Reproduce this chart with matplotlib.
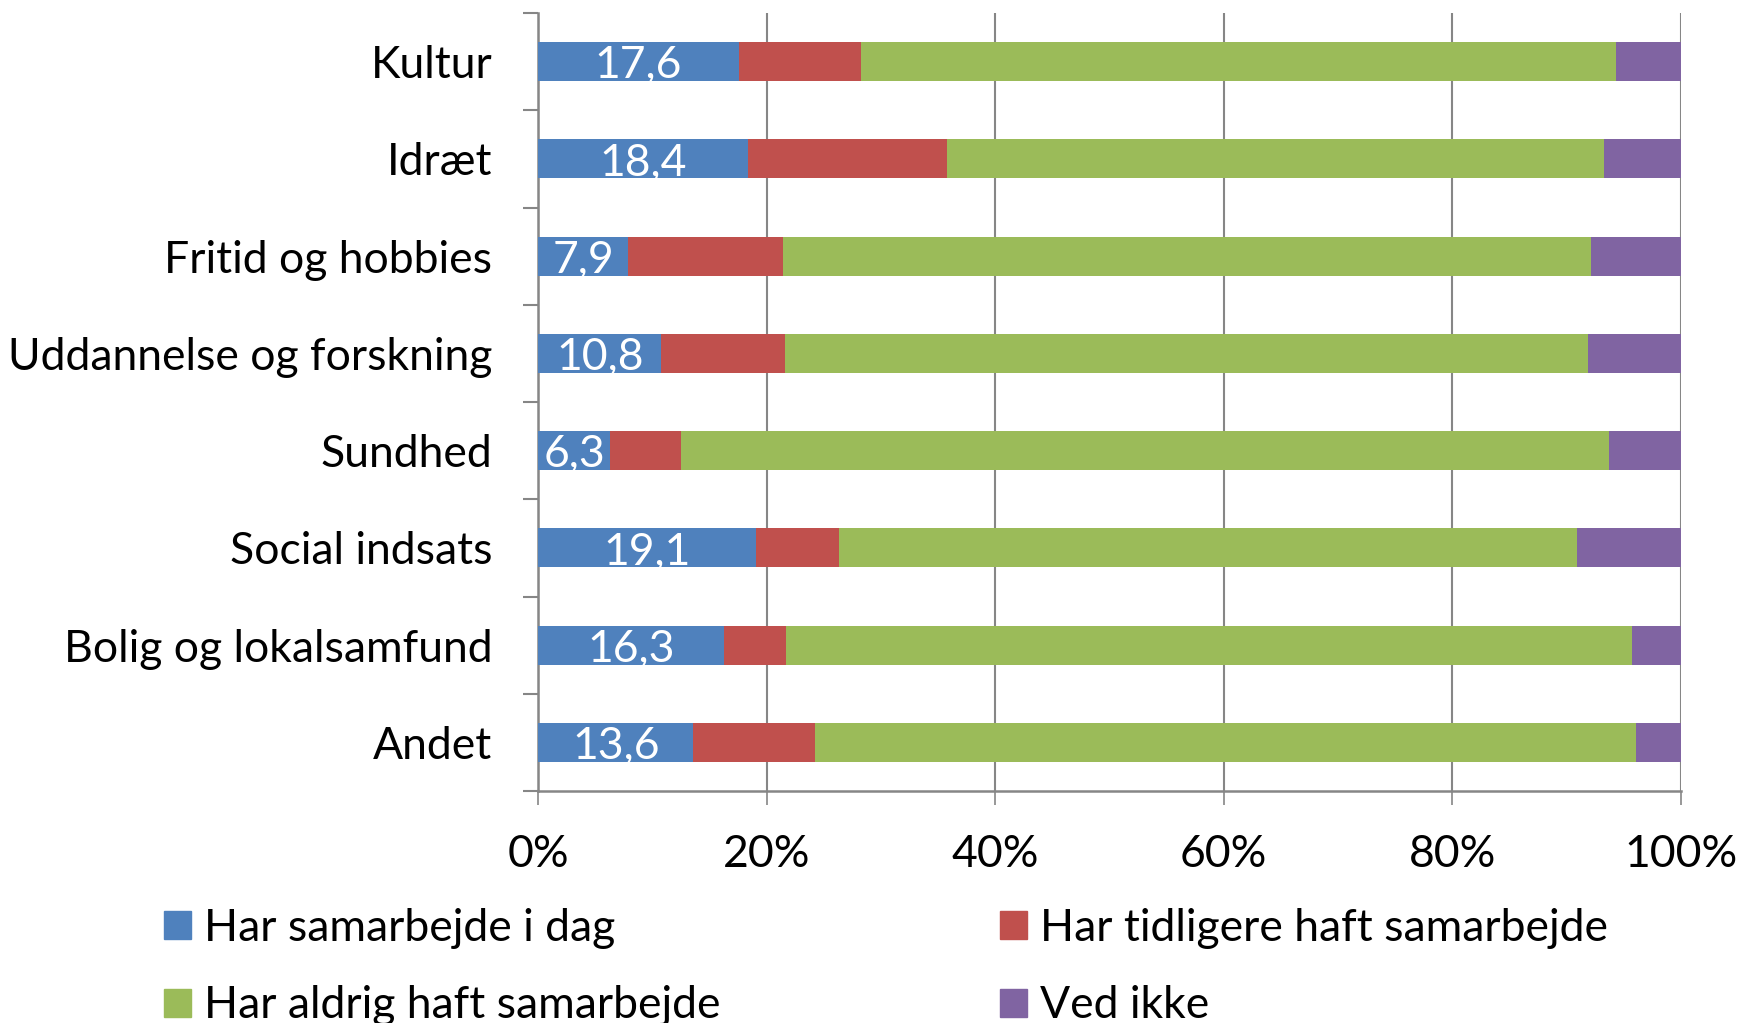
import numpy as np
import matplotlib
matplotlib.use("Agg")
import matplotlib.pyplot as plt
from matplotlib.patches import Patch

plt.rcParams["font.family"] = ["Lato", "DejaVu Sans"]

# kategorier, øverst -> nederst
categories = ["Kultur", "Idræt", "Fritid og hobbies", "Uddannelse og forskning",
              "Sundhed", "Social indsats", "Bolig og lokalsamfund", "Andet"]
i_dag = [17.6, 18.4, 7.9, 10.8, 6.3, 19.1, 16.3, 13.6]
tidligere = [10.7, 17.4, 13.5, 10.8, 6.2, 7.2, 5.4, 10.6]
aldrig = [66.0, 57.5, 70.7, 70.3, 81.2, 64.6, 74.0, 71.9]
ved_ikke = [5.7, 6.7, 7.9, 8.1, 6.3, 9.1, 4.3, 3.9]

series = [
    ("Har samarbejde i dag", i_dag, "#4F81BD"),
    ("Har tidligere haft samarbejde", tidligere, "#C0504D"),
    ("Har aldrig haft samarbejde", aldrig, "#9BBB59"),
    ("Ved ikke", ved_ikke, "#8064A2"),
]
x_ticks = [0, 20, 40, 60, 80, 100]
x_labels = ["0%", "20%", "40%", "60%", "80%", "100%"]

GRAY = "#868686"
FS = 32

fig = plt.figure(figsize=(17.38, 10.23), dpi=100)
ax = fig.add_axes([538 / 1738, 1 - 791 / 1023, (1681 - 538) / 1738, (791 - 13) / 1023])

y = np.arange(len(categories))
left = np.zeros(len(categories))
bars = []
for name, vals, col in series:
    b = ax.barh(y, vals, 0.4, left=left, color=col, label=name, zorder=3)
    bars.append(b)
    left = left + np.array(vals)

# dataetiketter på første serie (lidt under midten, som i Excel)
labs = ax.bar_label(bars[0], labels=["{:.1f}".format(v).replace(".", ",") for v in i_dag],
                    label_type="center", color="white", fontsize=FS, zorder=4)
for t in labs:
    t.set_y(-3)

ax.set_xlim(0, 100)
ax.set_ylim(len(categories) - 0.5, -0.5)
ax.set_xticks(x_ticks)
ax.set_xticklabels(x_labels, fontsize=FS)
ax.set_yticks(y)
ax.set_yticklabels(categories, fontsize=FS)
ax.set_yticks(np.arange(len(categories) + 1) - 0.5, minor=True)

ax.tick_params(axis="y", which="major", length=0, pad=33)
ax.tick_params(axis="y", which="minor", length=11, width=1.5, color=GRAY, direction="out")
ax.tick_params(axis="x", length=10, width=1.2, color=GRAY, direction="out", pad=21)

ax.grid(axis="x", color=GRAY, linewidth=1.5, zorder=0)
for s in ("top", "right"):
    ax.spines[s].set_visible(False)
for s in ("left", "bottom"):
    ax.spines[s].set_color(GRAY)
    ax.spines[s].set_linewidth(1.8)

# legende i to kolonner, placeret som i originalen
handles = [Patch(color=c, label=n) for n, _, c in series]
kw = dict(frameon=False, fontsize=FS, handlelength=0.6, handleheight=0.6,
          handletextpad=0.3, labelspacing=0.82, borderpad=0, borderaxespad=0,
          loc="upper left")
fig.legend(handles=[handles[0], handles[2]], bbox_to_anchor=(164 / 1738, 1 - 908 / 1023), **kw)
fig.legend(handles=[handles[1], handles[3]], bbox_to_anchor=(1000 / 1738, 1 - 908 / 1023), **kw)

fig.savefig("out.png", dpi=100)
